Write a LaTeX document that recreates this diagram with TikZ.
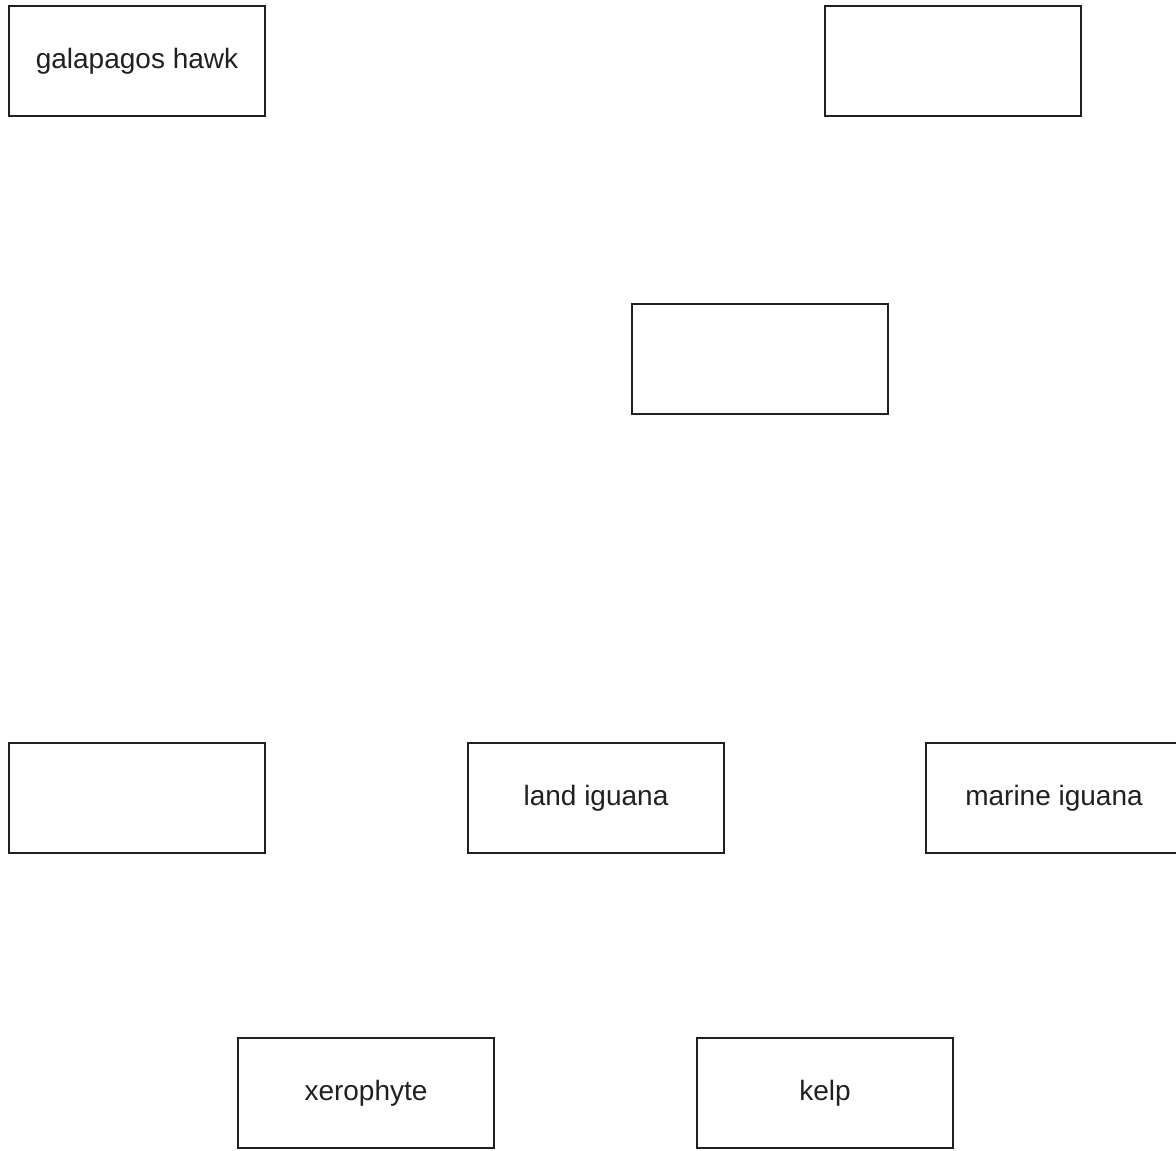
\documentclass[tikz,border=0pt]{standalone}
\usepackage{fontspec}
\setmainfont{Liberation Sans}
\definecolor{ink}{HTML}{231F20}
\begin{document}
\begin{tikzpicture}[x=1pt,y=-1pt,
  box/.style={draw=ink, line width=2pt, minimum width=256pt, minimum height=110pt,
    inner sep=0pt, text=ink, font=\fontsize{28}{32}\selectfont, anchor=center}]
\useasboundingbox[fill=white] (0,0) rectangle (1176,1151);
\node[box] (hawk) at (137,61) {galapagos hawk};
\node[box] (topright) at (953,61) {};
\node[box] (mid) at (760,359) {};
\node[box] (left) at (137,798) {};
\node[box] (land) at (596,798) {land iguana};
\node[box] (marine) at (1054,798) {marine iguana};
\node[box] (xero) at (366,1093) {xerophyte};
\node[box] (kelp) at (825,1093) {kelp};
\end{tikzpicture}
\end{document}
